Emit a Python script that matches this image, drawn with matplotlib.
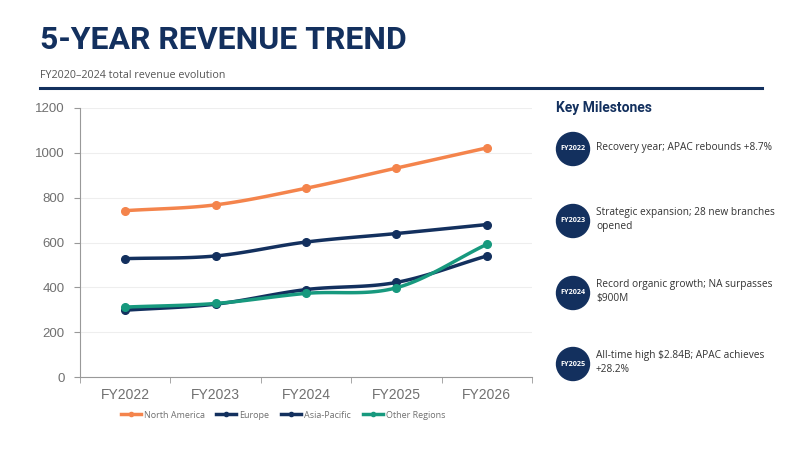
import numpy as np
import matplotlib.pyplot as plt
from matplotlib.patches import Circle
from matplotlib.lines import Line2D

# Data
years = ['FY2022', 'FY2023', 'FY2024', 'FY2025', 'FY2026']
north_america = [742, 768, 842, 932, 1022]
europe = [528, 540, 602, 640, 680]
asia_pacific = [298, 325, 390, 422, 540]
other_regions = [312, 328, 373, 398, 592]

series_names = ['North America', 'Europe', 'Asia-Pacific', 'Other Regions']
series_colors = ['#F4844C', '#13305E', '#13305E', '#17997E']

milestone_years = ['FY2022', 'FY2023', 'FY2024', 'FY2025']
milestone_texts = [
    'Recovery year; APAC rebounds +8.7%',
    'Strategic expansion; 28 new branches\nopened',
    'Record organic growth; NA surpasses\n$900M',
    'All-time high $2.84B; APAC achieves\n+28.2%',
]

NAVY = '#13305E'
GRAY = '#707070'


def smooth(x, y, n=30):
    # Catmull-Rom curve through the points, just for drawing
    x = np.asarray(x, float)
    y = np.asarray(y, float)
    px = np.concatenate([[2 * x[0] - x[1]], x, [2 * x[-1] - x[-2]]])
    py = np.concatenate([[2 * y[0] - y[1]], y, [2 * y[-1] - y[-2]]])
    xs, ys = [], []
    t = np.linspace(0, 1, n)
    for i in range(1, len(px) - 2):
        for p, out in ((px, xs), (py, ys)):
            p0, p1, p2, p3 = p[i - 1], p[i], p[i + 1], p[i + 2]
            out.append(0.5 * ((2 * p1) + (-p0 + p2) * t
                              + (2 * p0 - 5 * p1 + 4 * p2 - p3) * t ** 2
                              + (-p0 + 3 * p1 - 3 * p2 + p3) * t ** 3))
    return np.concatenate(xs), np.concatenate(ys)


fig = plt.figure(figsize=(8, 4.5), dpi=100)
fig.patch.set_facecolor('white')

# Header
fig.text(40 / 800, 1 - 40 / 450, '5-YEAR REVENUE TREND', fontsize=23, fontweight='bold',
         color=NAVY, family='Roboto', va='center', ha='left')
fig.text(40 / 800, 1 - 76 / 450, 'FY2020\u20132024 total revenue evolution', fontsize=7.75,
         color='#555555', family='Open Sans', va='center', ha='left')
fig.add_artist(Line2D([40 / 800, 762 / 800], [1 - 87.5 / 450, 1 - 87.5 / 450],
                      color=NAVY, linewidth=2.2))

# Chart
ax = fig.add_axes([80 / 800, 1 - 377 / 450, (532 - 80) / 800, (377 - 108) / 450])
x = np.arange(len(years))
for name, vals, col in zip(series_names, [north_america, europe, asia_pacific, other_regions], series_colors):
    sx, sy = smooth(x, vals)
    ax.plot(sx, sy, color=col, linewidth=2.5, solid_capstyle='round')
    ax.plot(x, vals, 'o', color=col, markersize=5.5)

ax.set_xlim(-0.5, len(years) - 0.5)
ax.set_ylim(0, 1200)
ax.set_yticks(range(0, 1201, 200))
ax.set_xticks(x)
ax.set_xticklabels(years)
ax.set_xticks(np.arange(-0.5, len(years), 1), minor=True)
ax.tick_params(axis='x', which='major', length=0, pad=8, labelsize=10, labelcolor=GRAY)
ax.tick_params(axis='x', which='minor', length=4, color='#999999')
ax.tick_params(axis='y', length=4, color='#999999', labelsize=9.5, labelcolor=GRAY, pad=7)
for lab in ax.get_xticklabels() + ax.get_yticklabels():
    lab.set_family('Liberation Sans')
ax.grid(axis='y', color='#EEEEEE', linewidth=0.8)
ax.set_axisbelow(True)
for s in ['top', 'right']:
    ax.spines[s].set_visible(False)
for s in ['left', 'bottom']:
    ax.spines[s].set_color('#999999')

handles = [Line2D([0], [0], color=c, linewidth=2.5, marker='o', markersize=3) for c in series_colors]
leg = fig.legend(handles, series_names, loc='center', bbox_to_anchor=(283 / 800, 1 - 415 / 450),
                 ncol=4, frameon=False, handlelength=2.2, handletextpad=0.35,
                 columnspacing=1.3, prop={'family': 'Open Sans', 'size': 6.5})
for t in leg.get_texts():
    t.set_color(GRAY)

# Milestones panel
fig.text(556 / 800, 1 - 108 / 450, 'Key Milestones', fontsize=10, fontweight='bold',
         color=NAVY, family='Roboto', va='center', ha='left')
pan = fig.add_axes([0, 0, 1, 1], facecolor='none')
pan.set_xlim(0, 800)
pan.set_ylim(450, 0)
pan.axis('off')
circle_y = [149, 221, 293, 364]
for cy, yr, txt in zip(circle_y, milestone_years, milestone_texts):
    pan.add_patch(Circle((573, cy), 16.5, color=NAVY))
    pan.text(573, cy, yr, color='white', fontsize=5.2, fontweight='bold',
             ha='center', va='center', family='Open Sans')
    pan.text(596, cy - 1.5, txt, color='#333333', fontsize=7.3, ha='left', va='center',
             family='Open Sans', linespacing=1.3)

fig.savefig('out.png', dpi=100)
